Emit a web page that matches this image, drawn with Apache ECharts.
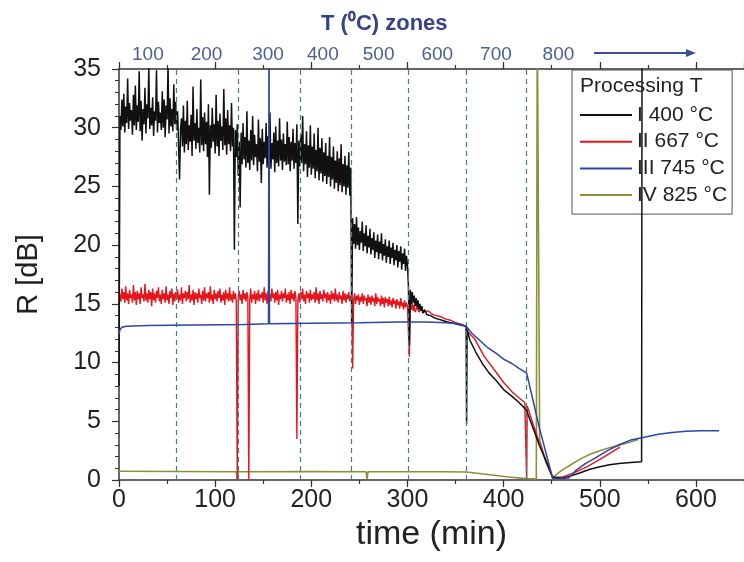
<!DOCTYPE html>
<html><head><meta charset="utf-8">
<script src="https://cdn.jsdelivr.net/npm/echarts@6/dist/echarts.min.js"></script>
<style>html,body{margin:0;padding:0;background:#fff}#c{width:744px;height:562px}</style>
</head><body><div id="c"></div>
<script>
// ---- data ----
const seriesNames = ['I 400 °C', 'II 667 °C', 'III 745 °C', 'IV 825 °C'];
const zoneBounds = [60, 124, 188, 242, 301, 361, 424];
const zoneCenters = [30, 91, 155, 212, 270, 331, 392, 457];
const zoneLabels = ['100', '200', '300', '400', '500', '600', '700', '800'];
const arrowFrom = 494, arrowTo = 600;

// noisy parts are sampled once per minute, starting at t = 0 min
const noisyStepMin = 1;

// I 400 °C : readings t = 0..300 min
const seriesINoisy = [
 8, 31.0, 29.8, 32.4, 30.1, 32.9, 29.6, 31.8, 30.4, 34.2,
 29.9, 32.1, 30.6, 31.5, 29.4, 32.8, 30.2, 33.6, 29.8, 31.9,
 30.5, 34.8, 29.7, 32.3, 28.9, 31.6, 30.3, 33.4, 29.5, 32.0,
 30.8, 35.2, 29.9, 31.7, 30.2, 32.6, 29.3, 31.4, 30.6, 34.9,
 29.6, 32.2, 30.4, 31.3, 29.8, 33.1, 30.0, 32.4, 29.2, 31.9,
 30.7, 35.3, 29.5, 32.5, 30.1, 31.6, 29.7, 33.7, 30.3, 32.2,
 29.8, 31.4, 28.3, 25.6, 29.9, 30.8, 28.4, 31.9, 27.9, 30.6,
 28.6, 32.3, 28.1, 30.2, 28.8, 31.1, 27.6, 33.5, 28.9, 30.4,
 28.2, 31.6, 28.7, 30.0, 27.9, 34.1, 28.5, 30.9, 28.0, 31.3,
 28.6, 30.5, 27.5, 32.0, 24.3, 30.2, 28.3, 31.7, 28.8, 30.3,
 27.8, 32.8, 28.4, 30.6, 27.6, 31.2, 28.9, 30.1, 28.1, 33.3,
 28.5, 30.8, 27.7, 31.5, 28.6, 30.2, 28.0, 32.1, 28.4, 30.0,
 19.6, 29.8, 27.5, 30.3, 25.9, 28.8, 23.2, 29.6, 26.9, 30.4,
 27.3, 29.2, 26.6, 31.4, 27.0, 28.9, 26.4, 29.8, 27.2, 31.0,
 26.8, 29.4, 27.5, 28.6, 26.3, 30.7, 27.1, 29.1, 25.3, 29.9,
 26.9, 28.8, 27.4, 30.4, 26.6, 29.3, 27.0, 31.3, 26.5, 28.7,
 27.3, 29.6, 26.2, 30.1, 27.0, 28.9, 26.7, 30.8, 27.2, 29.0,
 26.4, 29.5, 27.1, 28.6, 26.8, 30.5, 26.9, 29.2, 26.3, 28.8,
 27.2, 29.9, 26.5, 28.7, 27.0, 30.3, 21.8, 28.9, 26.7, 29.4,
 27.0, 31.0, 26.3, 28.6, 26.9, 29.7, 25.8, 28.5, 26.6, 30.2,
 26.0, 28.4, 26.5, 29.5, 25.7, 28.1, 26.3, 30.0, 25.5, 28.3,
 26.1, 29.1, 25.4, 27.9, 25.9, 28.7, 25.2, 27.6, 25.8, 29.2,
 25.0, 27.5, 25.6, 28.4, 24.8, 27.2, 25.3, 28.0, 24.6, 27.4,
 25.1, 28.6, 24.5, 26.9, 25.0, 27.6, 24.3, 26.8, 24.9, 27.9,
 24.2, 26.6, 13.4, 22.3, 20.1, 21.8, 19.7, 22.4, 20.0, 21.5,
 19.6, 21.2, 20.2, 22.0, 19.5, 21.0, 19.9, 21.7, 19.3, 20.8,
 19.8, 21.4, 19.2, 20.6, 19.6, 21.1, 18.9, 20.4, 19.4, 20.9,
 18.8, 20.3, 19.3, 21.0, 18.7, 20.1, 19.1, 20.5, 18.5, 19.9,
 19.0, 20.4, 18.4, 19.8, 18.9, 20.2, 18.3, 19.6, 18.7, 20.0,
 18.1, 19.5, 18.6, 19.9, 17.9, 19.3, 18.4, 19.7, 17.8, 19.1,
 18.3
];
// I 400 °C : readings after 300 min, [min, dB]
const seriesITail = [
 [301,16.5],[302,11.5],[303,16.2],[304,15.0],[305,16.0],[306,15.1],[307,15.7],[308,14.8],[309,15.5],[310,14.7],[311,15.3],[312,14.5],[313,15.0],[314,14.4],[315,14.8],[316,14.2],[318,14.5],[320,14.1],
 [324,14.0],[328,13.8],[332,13.7],[336,13.6],[340,13.5],[345,13.4],[350,13.3],[355,13.2],[361,13.1],
 [361.5,4.8],[362,12.8],[365,11.9],[371,10.9],[378,9.9],[385,9.1],[392,8.5],[400,7.7],[409,7.1],[416,6.6],[422,6.1],[424,5.9],[437,3.0],[451,0.25],
 [461,0.15],[470,0.35],[479,0.6],[489,0.9],[499,1.1],[510,1.3],[520,1.4],[532,1.5],[543.5,1.55],[544,40]
];

// II 667 °C : readings t = 0..300 min
const seriesIINoisy = [
 14.6, 15.8, 15.2, 16.3, 15.4, 16.0, 15.1, 16.5, 15.3, 15.9,
 15.0, 16.2, 15.5, 15.8, 15.1, 16.6, 15.3, 16.0, 14.9, 16.1,
 15.4, 15.9, 15.0, 16.4, 15.5, 15.8, 15.2, 16.7, 15.3, 15.9,
 15.1, 16.2, 15.4, 16.0, 14.8, 16.3, 15.3, 15.9, 15.1, 16.1,
 15.5, 16.4, 15.2, 15.8, 15.0, 16.2, 15.4, 15.9, 15.1, 16.5,
 15.3, 15.8, 15.0, 16.1, 15.5, 16.3, 14.9, 15.9, 15.2, 16.0,
 15.4, 16.2, 15.1, 15.8, 15.3, 16.4, 15.0, 15.9, 15.5, 16.1,
 15.2, 16.0, 15.4, 16.6, 15.1, 15.8, 15.3, 16.2, 14.9, 16.0,
 15.4, 15.9, 15.1, 16.3, 15.5, 15.8, 15.0, 16.1, 15.3, 16.4,
 15.2, 15.9, 15.5, 16.0, 15.1, 16.5, 15.3, 15.8, 15.0, 16.2,
 15.4, 15.9, 15.2, 16.1, 15.5, 16.3, 15.1, 15.8, 15.3, 16.0,
 14.9, 16.2, 15.4, 15.9, 15.2, 16.4, 15.3, 15.8, 15.1, 16.1,
 15.4, 15.9, 15.2, 0, 15.6, 16.1, 15.3, 15.8, 15.0, 16.2,
 15.4, 15.9, 15.2, 16.0, 15.5, 0, 15.3, 16.3, 15.1, 15.8,
 15.4, 16.1, 15.0, 15.9, 15.3, 16.2, 15.2, 15.8, 15.5, 16.0,
 15.1, 16.4, 15.3, 15.9, 15.0, 16.1, 15.4, 15.8, 15.2, 16.3,
 15.5, 15.9, 15.1, 16.0, 15.3, 16.2, 14.9, 15.8, 15.4, 16.1,
 15.2, 15.9, 15.5, 16.3, 15.1, 15.8, 15.3, 16.0, 15.0, 16.2,
 15.4, 15.9, 15.2, 16.1, 15.5, 3.5, 15.3, 15.9, 15.1, 16.0,
 15.4, 16.3, 15.2, 15.8, 15.0, 16.1, 15.5, 15.9, 15.1, 16.2,
 15.3, 15.8, 15.4, 16.0, 15.1, 16.4, 15.3, 15.9, 15.0, 16.1,
 15.4, 15.8, 15.2, 16.2, 15.5, 15.9, 15.1, 16.0, 15.3, 15.8,
 15.0, 16.1, 15.4, 15.9, 15.2, 16.3, 15.3, 15.8, 15.1, 16.0,
 15.4, 15.7, 15.0, 16.1, 15.3, 15.9, 15.1, 15.8, 15.4, 16.0,
 15.2, 15.7, 15.4, 9.5, 15.3, 15.9, 15.0, 15.7, 15.3, 15.8,
 14.9, 15.6, 15.2, 15.9, 15.0, 15.7, 15.3, 15.5, 14.8, 15.8,
 15.1, 15.6, 14.9, 15.7, 15.2, 15.5, 14.8, 15.9, 15.0, 15.6,
 15.2, 15.4, 14.8, 15.7, 15.0, 15.5, 14.7, 15.6, 15.1, 15.4,
 14.8, 15.6, 14.9, 15.3, 14.7, 15.5, 15.0, 15.3, 14.6, 15.4,
 14.9, 15.2, 14.6, 15.5, 14.8, 15.1, 14.5, 15.3, 14.7, 15.1,
 14.8
];
// II 667 °C : readings after 300 min, [min, dB]
const seriesIITail = [
 [302,10.5],[303,15.0],[304,14.5],[305,15.1],[306,14.4],[307,14.9],[308,14.3],[310,14.7],[312,14.3],[314,14.6],[318,14.3],[322,14.4],[326,14.1],[330,14.0],[335,13.9],[340,13.7],[345,13.6],[350,13.4],[355,13.3],[361,13.1],
 [363,12.6],[370,12.0],[380,10.5],[392,9.2],[400,8.3],[409,7.5],[416,7.0],[422,6.6],[423.5,6.5],[424,0],[424.5,6.3],[437,3.2],[451,0.2],
 [461,0.25],[473,0.6],[486,1.1],[497,1.6],[507,2.1],[515,2.5],[521,2.8]
];

// III 745 °C : [min, dB]
const seriesIII = [
 [0,12.4],[1,12.8],[3,13.0],[8,13.1],[30,13.15],[80,13.2],[130,13.25],[155.5,13.3],[156,40],[156.5,13.3],[200,13.35],[250,13.4],[290,13.45],[320,13.45],[340,13.4],[352,13.3],[361,13.1],
 [367,12.5],[375,11.9],[383,11.3],[392,10.8],[400,10.3],[409,9.9],[416,9.5],[424,9.1],[437,4.5],[451,0.15],[460,0.1],[468,0.2],[475,0.8],[485,1.4],[496,1.9],[508,2.5],[520,3.0],[532,3.4],[544,3.6],[561,3.9],[575,4.05],[590,4.15],[605,4.2],[624,4.2]
];

// IV 825 °C : [min, dB]
const seriesIV = [
 [0,0.75],[60,0.72],[122,0.7],[123,0.05],[124,0.7],[200,0.72],[257,0.7],[258,0.1],[259,0.7],[300,0.7],[340,0.7],[361,0.68],[375,0.55],[390,0.4],[405,0.25],[424,0.12],[434,0.1],
 [435,40],[436.5,40],[437.5,3.4],[444,1.5],[451,0.2],[460,0.8],[470,1.3],[480,1.8],[490,2.2],[500,2.5],[510,2.75],[520,2.95],[530,3.2],[540,3.45]
];

function withTimes(values) { return values.map((v, i) => [i * noisyStepMin, v]); }
const dataI = withTimes(seriesINoisy).concat(seriesITail);
const dataII = withTimes(seriesIINoisy).concat(seriesIITail);

// ---- chart ----
const FONT = 'Liberation Sans, Arial, sans-serif';
const chart = echarts.init(document.getElementById('c'), null, {renderer: 'canvas'});
const axisCol = '#333';
const xBase = {type: 'value', min: 0, max: 650, gridIndex: 0};

const option = {
  backgroundColor: '#fff',
  animation: false,
  textStyle: {fontFamily: FONT},
  grid: {left: 119, top: 69, width: 626, height: 411, containLabel: false},
  title: {
    text: 'T (⁰C) zones', left: 316, top: 8,
    textStyle: {fontSize: 22, fontWeight: 'bold', color: '#35418a', fontFamily: FONT}
  },
  legend: {
    orient: 'vertical', left: 572, top: 70,
    data: seriesNames,
    icon: 'rect',
    itemWidth: 52, itemHeight: 2, itemGap: 4.7,
    padding: [34, 5, 8, 8],
    borderColor: '#555', borderWidth: 1, backgroundColor: '#fff',
    textStyle: {fontSize: 21, color: '#222', fontFamily: FONT, lineHeight: 22}
  },
  xAxis: [
    Object.assign({}, xBase, {
      position: 'bottom', interval: 100,
      name: 'time (min)', nameLocation: 'middle', nameGap: 38,
      nameTextStyle: {fontSize: 34, color: '#222', fontFamily: FONT},
      axisLine: {show: true, lineStyle: {color: axisCol, width: 1.5}},
      axisTick: {show: true, length: 7, lineStyle: {color: axisCol, width: 1.2}},
      axisLabel: {fontSize: 25, color: '#222', margin: 8, showMaxLabel: false},
      splitLine: {show: false}
    }),
    Object.assign({}, xBase, {
      position: 'bottom', interval: 50,
      axisLine: {show: false}, axisLabel: {show: false},
      axisTick: {show: true, length: 4, lineStyle: {color: axisCol, width: 1.2}},
      splitLine: {show: false}
    }),
    Object.assign({}, xBase, {
      position: 'top', interval: 100,
      axisLine: {show: true, lineStyle: {color: axisCol, width: 1.5}},
      axisTick: {show: true, length: 7, lineStyle: {color: axisCol, width: 1.2}},
      axisLabel: {
        show: true, customValues: zoneCenters, fontSize: 19, color: '#4b5e96', margin: 5,
        formatter: function (v) { const i = zoneCenters.indexOf(v); return i >= 0 ? zoneLabels[i] : ''; }
      },
      splitLine: {show: false}
    }),
    Object.assign({}, xBase, {
      position: 'top', interval: 50,
      axisLine: {show: false}, axisLabel: {show: false},
      axisTick: {show: true, length: 4, lineStyle: {color: axisCol, width: 1.2}},
      splitLine: {show: false}
    })
  ],
  yAxis: {
    type: 'value', min: 0, max: 35, interval: 5,
    name: 'R [dB]', nameLocation: 'middle', nameGap: 76,
    nameTextStyle: {fontSize: 29, color: '#222', fontFamily: FONT},
    axisLine: {show: true, lineStyle: {color: axisCol, width: 1.5}},
    axisTick: {show: true, length: 7, lineStyle: {color: axisCol, width: 1.2}},
    minorTick: {show: true, splitNumber: 5, length: 4, lineStyle: {color: axisCol, width: 1}},
    axisLabel: {fontSize: 25, color: '#222', margin: 18},
    splitLine: {show: false}
  },
  series: [
    {
      name: seriesNames[3], type: 'line', data: seriesIV, showSymbol: false, symbol: 'none',
      lineStyle: {color: '#8f8f3a', width: 1.6}, itemStyle: {color: '#8f8f3a'}, clip: true, z: 2,
      markLine: {
        silent: true, symbol: 'none', label: {show: false},
        lineStyle: {type: [5, 4], color: '#3f7f88', width: 1.2},
        data: zoneBounds.map(v => ({xAxis: v}))
      }
    },
    {name: seriesNames[1], type: 'line', data: dataII, showSymbol: false, symbol: 'none',
     lineStyle: {color: '#e8141c', width: 1.4}, itemStyle: {color: '#e8141c'}, clip: true, z: 3},
    {name: seriesNames[0], type: 'line', data: dataI, showSymbol: false, symbol: 'none',
     lineStyle: {color: '#111111', width: 1.5}, itemStyle: {color: '#111111'}, clip: true, z: 4},
    {name: seriesNames[2], type: 'line', data: seriesIII, showSymbol: false, symbol: 'none',
     lineStyle: {color: '#2a46a8', width: 1.5}, itemStyle: {color: '#2a46a8'}, clip: true, z: 5}
  ]
};
chart.setOption(option);

// annotations: legend heading and arrow on top axis
const ax1 = chart.convertToPixel({xAxisIndex: 0}, arrowFrom);
const ax2 = chart.convertToPixel({xAxisIndex: 0}, arrowTo);
const arrowY = 53;
chart.setOption({
  graphic: [
    {type: 'text', left: 580, top: 76, z: 100,
     style: {text: 'Processing T', fontSize: 21, fill: '#222', fontFamily: FONT}},
    {type: 'line', z: 100, shape: {x1: ax1, y1: arrowY, x2: ax2 - 8, y2: arrowY},
     style: {stroke: '#3a4f9a', lineWidth: 2}},
    {type: 'polygon', z: 100, shape: {points: [[ax2, arrowY], [ax2 - 10, arrowY - 4], [ax2 - 10, arrowY + 4]]},
     style: {fill: '#3a4f9a'}}
  ]
});
</script></body></html>
